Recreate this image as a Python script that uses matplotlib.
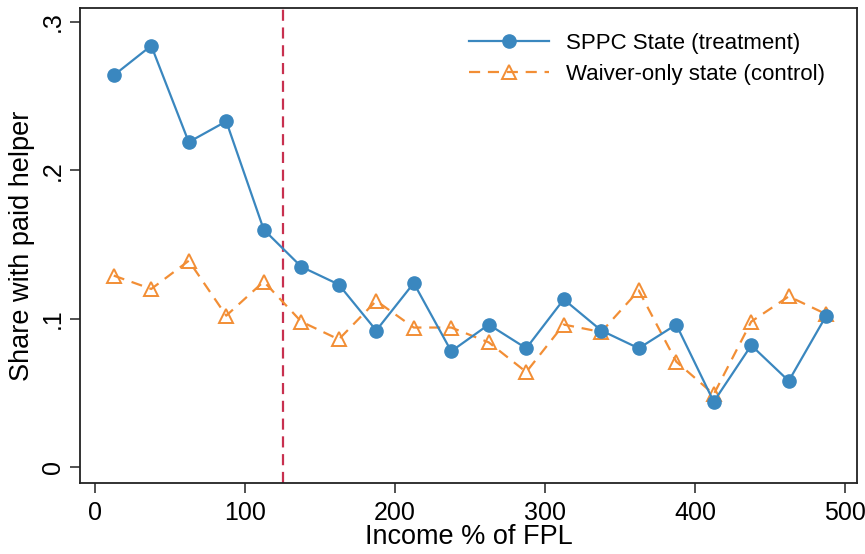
import matplotlib
matplotlib.use("Agg")
import matplotlib.pyplot as plt

# income bins (% of FPL, bin midpoints)
income = [12.5, 37.5, 62.5, 87.5, 112.5, 137.5, 162.5, 187.5, 212.5, 237.5,
          262.5, 287.5, 312.5, 337.5, 362.5, 387.5, 412.5, 437.5, 462.5, 487.5]
sppc = [0.264, 0.284, 0.219, 0.233, 0.160, 0.135, 0.123, 0.092, 0.124, 0.078,
        0.096, 0.080, 0.113, 0.092, 0.080, 0.096, 0.044, 0.082, 0.058, 0.102]
waiver = [0.129, 0.120, 0.139, 0.102, 0.125, 0.098, 0.086, 0.112, 0.094, 0.094,
          0.084, 0.064, 0.096, 0.091, 0.119, 0.071, 0.049, 0.098, 0.115, 0.103]
cutoff = 125
xticks = [0, 100, 200, 300, 400, 500]
yticks = [0, 0.1, 0.2, 0.3]
ylabels = ["0", ".1", ".2", ".3"]

plt.rcParams['font.family'] = ['Liberation Sans', 'DejaVu Sans']

fig = plt.figure(figsize=(8.65, 5.54), dpi=100)
ax = fig.add_axes([80 / 865, 1 - 483 / 554, 777 / 865, 475 / 554])

blue = '#3a87bf'
orange = '#f28e35'

ax.axvline(cutoff, color='#c8304f', linestyle=(0, (5, 3)), linewidth=1.6, zorder=1)
ax.plot(income, sppc, color=blue, linewidth=1.6, marker='o', markersize=9.5,
        label='SPPC State (treatment)', zorder=3)
ax.plot(income, waiver, color=orange, linewidth=1.6, linestyle=(0, (5, 3.5)),
        marker='^', markersize=9.5, markerfacecolor='none', markeredgewidth=1.4,
        label='Waiver-only state (control)', zorder=2)

ax.set_xlim(-10, 508)
ax.set_ylim(-0.0108, 0.3094)
ax.set_xticks(xticks)
ax.set_yticks(yticks)
ax.set_yticklabels(ylabels, rotation=90, va='center')
ax.tick_params(axis='both', labelsize=18, length=7, width=1.2, color='#333333')
ax.tick_params(axis='x', pad=6)
ax.tick_params(axis='y', pad=4)
for s in ax.spines.values():
    s.set_color('#222222')
    s.set_linewidth(1.3)

ax.set_xlabel('Income % of FPL', fontsize=19.5, labelpad=-1)
ax.set_ylabel('Share with paid helper', fontsize=19.5, labelpad=4)

ax.legend(loc='upper right', frameon=False, fontsize=16, handlelength=3.6,
          bbox_to_anchor=(0.985, 0.99), labelspacing=0.45)

fig.savefig('out.png', dpi=100)
